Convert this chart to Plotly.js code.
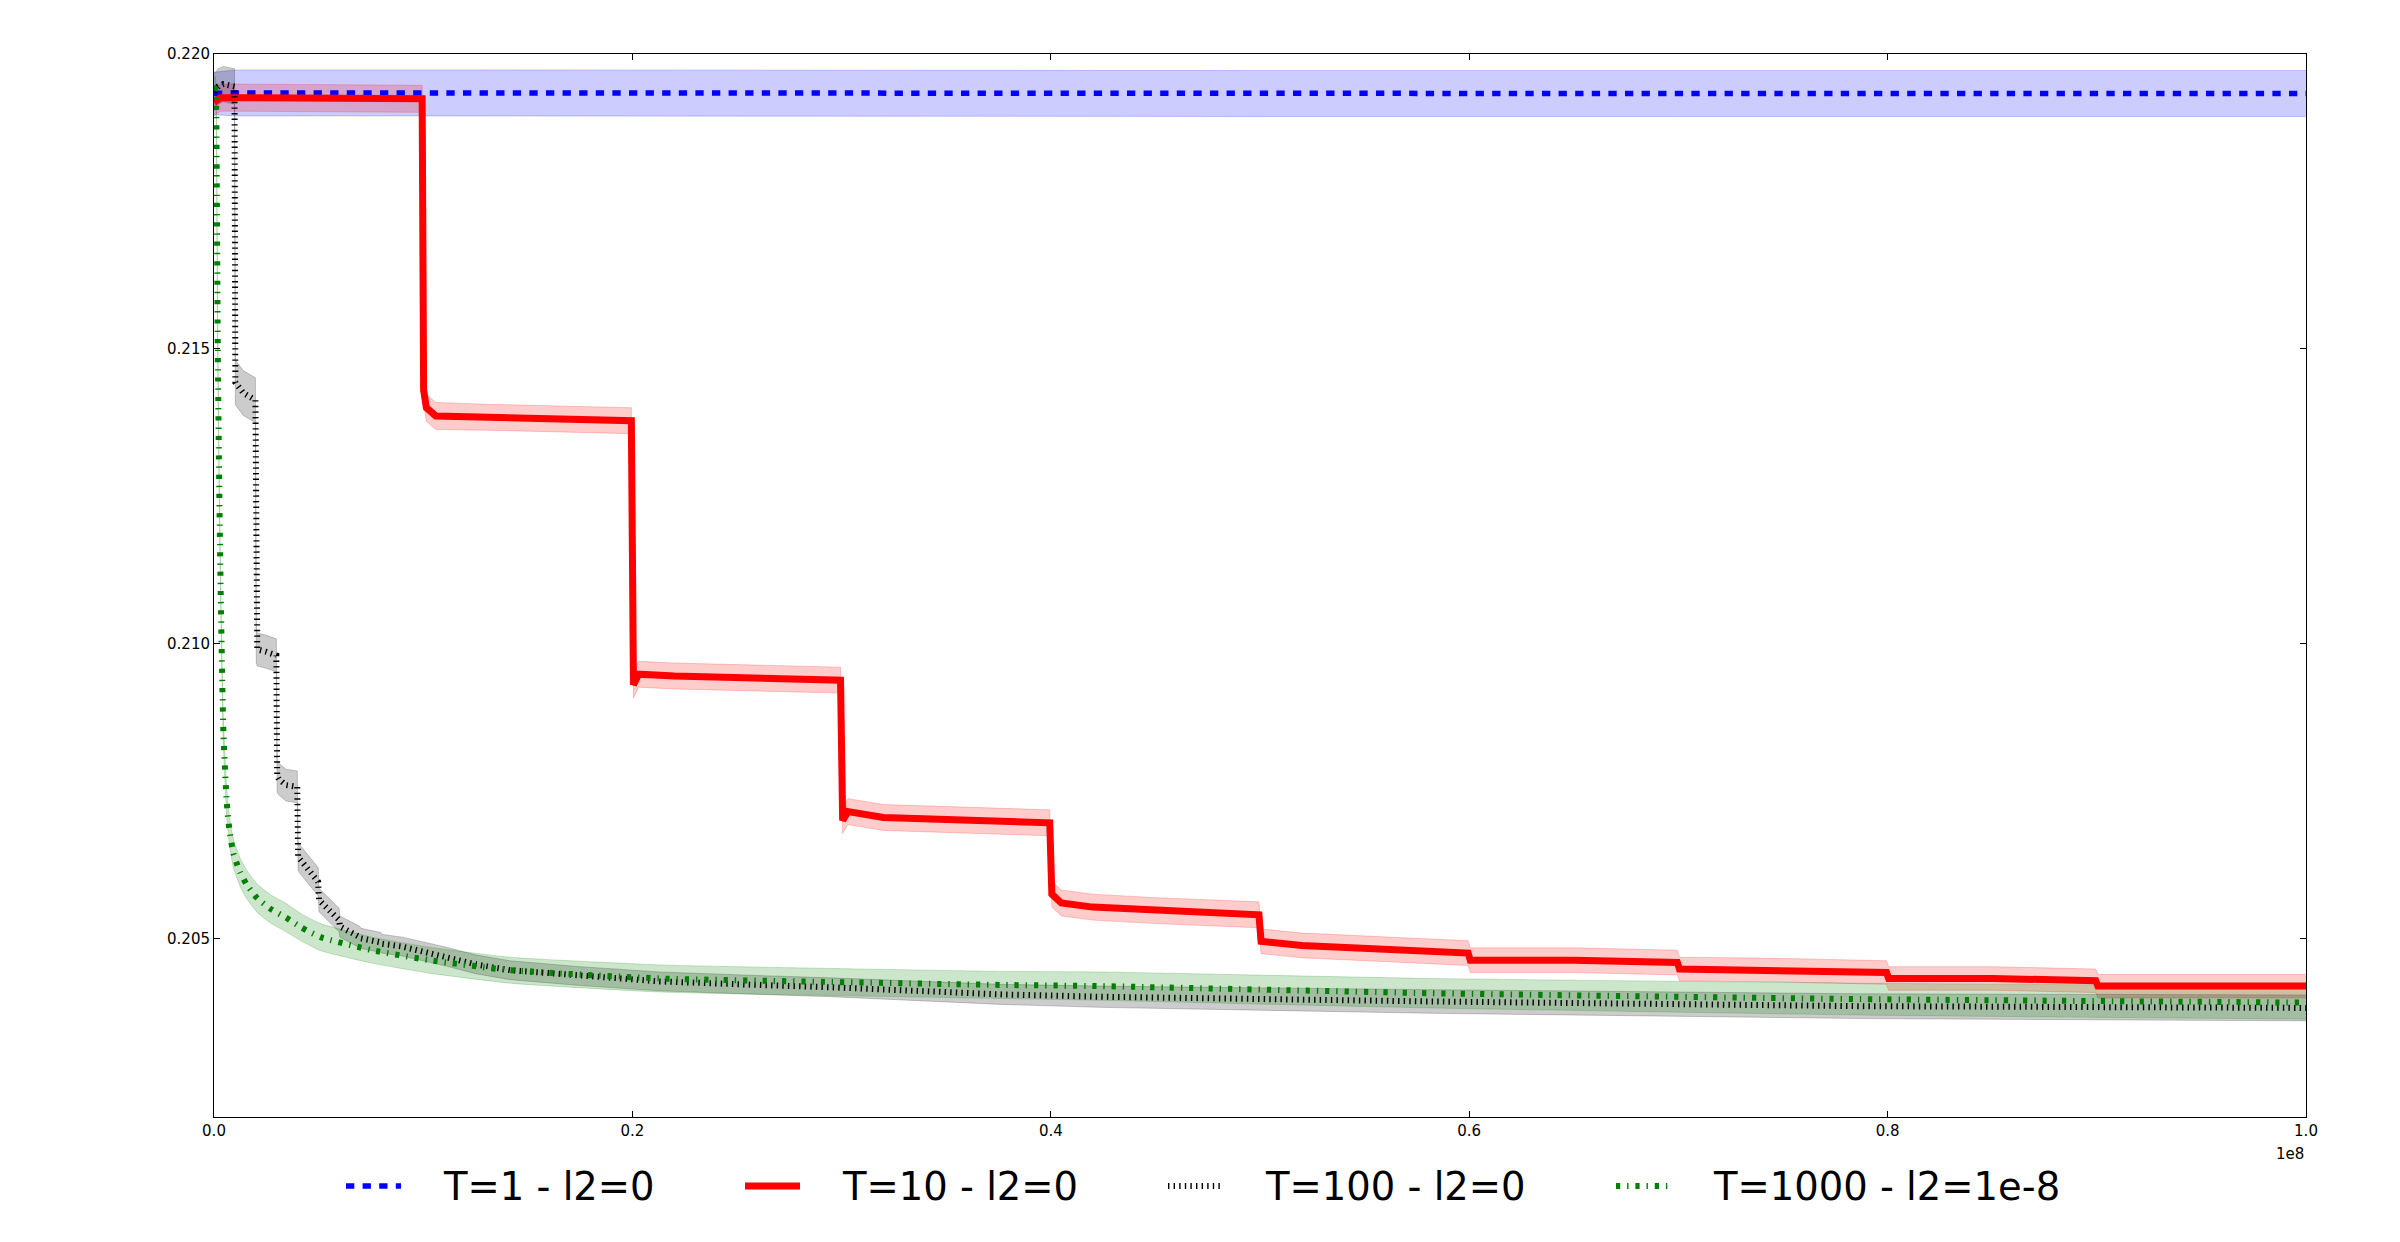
<!DOCTYPE html>
<html>
<head>
<meta charset="utf-8">
<script src="https://cdn.plot.ly/plotly-3.0.1.min.js"></script>
<style>html,body{margin:0;padding:0;background:#fff}#chart{width:2400px;height:1242px}</style>
</head>
<body>
<div id="chart"></div>
<script>
// x values are in units of 1e8 (matplotlib offset text "1e8")
const seriesNames = ["T=1 - l2=0", "T=10 - l2=0", "T=100 - l2=0", "T=1000 - l2=1e-8"];

const blueX = [0, 0.01, 0.1, 0.3, 0.5, 0.7, 1.0];
const blueY = [0.21933, 0.21934, 0.21934, 0.21933, 0.21933, 0.21933, 0.21933];
const blueS = [0.00036, 0.00039, 0.00039, 0.00039, 0.00039, 0.00039, 0.00039];

const redX = [0, 0.003, 0.01, 0.05, 0.0995, 0.1002, 0.1015, 0.106, 0.13, 0.1995, 0.2005, 0.203, 0.22, 0.2995,
  0.3005, 0.303, 0.32, 0.3995, 0.4005, 0.405, 0.42, 0.45, 0.4995, 0.5005, 0.52, 0.5995, 0.6005, 0.65, 0.6995,
  0.7005, 0.75, 0.7995, 0.8005, 0.85, 0.8995, 0.9005, 1.0];
const redY = [0.21918, 0.21926, 0.21926, 0.21925, 0.21924, 0.2143, 0.21400, 0.21386, 0.21384, 0.21378, 0.2093, 0.20948, 0.20945, 0.20938,
  0.20700, 0.20715, 0.20705, 0.20696, 0.20575, 0.2056, 0.20553, 0.20547, 0.2054, 0.20495, 0.20488, 0.20475, 0.20463, 0.20463, 0.20459,
  0.20448, 0.20446, 0.20442, 0.20432, 0.20432, 0.20428, 0.20419, 0.20419];
const redS = [0.00023, 0.00023, 0.00023, 0.00023, 0.00023, 0.00023, 0.00023, 0.00023, 0.00022, 0.00022, 0.00022, 0.00022, 0.00022, 0.00022,
  0.00022, 0.00022, 0.00022, 0.00022, 0.00022, 0.00022, 0.00022, 0.00022, 0.00022, 0.00021, 0.00021, 0.00021, 0.00021, 0.00021, 0.00021,
  0.0002, 0.0002, 0.0002, 0.0002, 0.0002, 0.0002, 0.0002, 0.0002];

const blackX = [0, 0.002, 0.0045, 0.0098, 0.0102, 0.014, 0.0198, 0.0202, 0.0207, 0.025, 0.0298, 0.0302, 0.031, 0.0344, 0.0398,
  0.0402, 0.0407, 0.0498, 0.0502, 0.0598, 0.0602, 0.0698, 0.0702, 0.0798, 0.0802, 0.09, 0.1, 0.111, 0.125, 0.1415, 0.175,
  0.213, 0.26, 0.295, 0.376, 0.4235, 0.581, 0.787, 1.0];
const blackY = [0.21936, 0.21945, 0.21949, 0.21945, 0.21443, 0.21425, 0.21413, 0.20995, 0.20990, 0.20986, 0.20980, 0.20775, 0.20770, 0.20760, 0.20757,
  0.20640, 0.20636, 0.20596, 0.20565, 0.20531, 0.20520, 0.20502, 0.20500, 0.20493, 0.20491, 0.20486, 0.20478, 0.20469, 0.20456, 0.20446, 0.20436,
  0.20427, 0.20421, 0.20417, 0.20405, 0.20401, 0.20393, 0.20385, 0.20382];
const blackS = [0.0003, 0.0003, 0.0003, 0.0003, 0.00038, 0.00038, 0.00038, 0.00028, 0.00028, 0.00028, 0.00028, 0.00027, 0.00027, 0.00027, 0.00027,
  0.00024, 0.00024, 0.00024, 0.0002, 0.0002, 0.00018, 0.00018, 0.00017, 0.00017, 0.00016, 0.00016, 0.00016, 0.00016, 0.00016, 0.00016, 0.00016,
  0.00016, 0.00016, 0.00016, 0.00017, 0.00018, 0.0002, 0.00021, 0.00022];

const greenX = [0, 0.0005, 0.001, 0.0013, 0.0018, 0.0025, 0.0032, 0.0045, 0.0061, 0.0075, 0.0092, 0.0108, 0.0125, 0.0155, 0.0207, 0.027,
  0.0345, 0.042, 0.051, 0.0755, 0.103, 0.1415, 0.213, 0.295, 0.376, 0.4235, 0.581, 0.787, 1.0];
const greenY = [0.2194, 0.21942, 0.2192, 0.21799, 0.21502, 0.21265, 0.21087, 0.20849, 0.20730, 0.20680, 0.20645, 0.20628, 0.20612, 0.20592, 0.20568, 0.20550,
  0.20535, 0.20518, 0.20502, 0.20480, 0.20463, 0.20446, 0.20432, 0.20426, 0.20421, 0.20419, 0.20407, 0.20397, 0.20391];
const greenS = [0.0002, 0.0002, 0.0002, 0.0002, 0.0002, 0.00021, 0.00022, 0.00023, 0.00024, 0.00024, 0.00024, 0.00024, 0.00024, 0.00024, 0.00024, 0.00024,
  0.00024, 0.00023, 0.00023, 0.00022, 0.00022, 0.00022, 0.00023, 0.00023, 0.00023, 0.00024, 0.00025, 0.00027, 0.00028];

const xTickVals = [0, 0.2, 0.4, 0.6, 0.8, 1.0];
const xTickText = ["0.0", "0.2", "0.4", "0.6", "0.8", "1.0"];
const yTickVals = [0.205, 0.210, 0.215, 0.220];
const yTickText = ["0.205", "0.210", "0.215", "0.220"];
const xOffsetText = "1e8";

const series = [
  {x: blueX, y: blueY, s: blueS, line: 'rgb(0,0,255)', fill: 'rgba(0,0,255,0.2)', dash: '8.3px,8.3px', width: 5.5, shape: 'linear'},
  {x: redX, y: redY, s: redS, line: 'rgb(255,0,0)', fill: 'rgba(255,0,0,0.2)', dash: 'solid', width: 7, shape: 'linear'},
  {x: blackX, y: blackY, s: blackS, line: 'rgb(0,0,0)', fill: 'rgba(0,0,0,0.2)', dash: '1.4px,4.2px', width: 6, shape: 'linear'},
  {x: greenX, y: greenY, s: greenS, line: 'rgb(0,128,0)', fill: 'rgba(0,128,0,0.2)', dash: '4.2px,6.9px,1.4px,6.9px', width: 6, shape: 'spline'}
];

const traces = [];
series.forEach(function (sr) {
  const up = sr.y.map(function (v, i) { return v + sr.s[i]; });
  const lo = sr.y.map(function (v, i) { return v - sr.s[i]; });
  traces.push({x: sr.x, y: up, mode: 'lines', line: {color: sr.fill, width: 1, shape: sr.shape, smoothing: 0.5}, showlegend: false, hoverinfo: 'skip'});
  traces.push({x: sr.x, y: lo, mode: 'lines', line: {color: sr.fill, width: 1, shape: sr.shape, smoothing: 0.5}, fill: 'tonexty', fillcolor: sr.fill, showlegend: false, hoverinfo: 'skip'});
});
series.forEach(function (sr, i) {
  traces.push({x: sr.x, y: sr.y, mode: 'lines', name: seriesNames[i], showlegend: false,
    line: {color: sr.line, width: sr.width, dash: sr.dash, shape: sr.shape, smoothing: 0.5}});
});

const L = 214, R = 2306, T = 54, B = 1117;
const pw = R - L, ph = B - T;
function px2paperX(p) { return (p - L) / pw; }
function px2paperY(p) { return (B - p) / ph; }

// legend drawn as a row of samples + labels below the plot
const legendLineStart = [346, 745, 1168, 1616];
const legendY = 1186;
const shapes = [];
const annotations = [];
series.forEach(function (sr, i) {
  shapes.push({type: 'line', xref: 'paper', yref: 'paper',
    x0: px2paperX(legendLineStart[i]), x1: px2paperX(legendLineStart[i] + 55),
    y0: px2paperY(legendY), y1: px2paperY(legendY),
    line: {color: sr.line, width: sr.width, dash: sr.dash}});
  annotations.push({text: seriesNames[i], xref: 'paper', yref: 'paper',
    x: px2paperX(legendLineStart[i] + 96), y: px2paperY(legendY), xanchor: 'left', yanchor: 'middle',
    showarrow: false, borderpad: 0, font: {family: 'DejaVu Sans', size: 38.5, color: '#000'}});
});
annotations.push({text: xOffsetText, xref: 'paper', yref: 'paper', x: 1, y: px2paperY(1154), xanchor: 'right', yanchor: 'middle',
  showarrow: false, font: {family: 'DejaVu Sans', size: 15, color: '#000'}});

const axisCommon = {showline: true, linecolor: '#000', linewidth: 1, mirror: 'ticks', ticks: 'inside',
  ticklen: 6, tickwidth: 1, tickcolor: '#000', showgrid: false, zeroline: false,
  tickfont: {family: 'DejaVu Sans', size: 15, color: '#000'}};

const layout = {
  width: 2400, height: 1242,
  margin: {l: L, r: 2400 - R, t: T, b: 1242 - B},
  paper_bgcolor: '#fff', plot_bgcolor: '#fff',
  font: {family: 'DejaVu Sans', color: '#000'},
  showlegend: false,
  xaxis: Object.assign({}, axisCommon, {range: [0, 1], tickvals: xTickVals, ticktext: xTickText}),
  yaxis: Object.assign({}, axisCommon, {range: [0.20197, 0.220], tickvals: yTickVals, ticktext: yTickText}),
  shapes: shapes,
  annotations: annotations
};

Plotly.newPlot('chart', traces, layout, {staticPlot: true, displayModeBar: false});
</script>
</body>
</html>
